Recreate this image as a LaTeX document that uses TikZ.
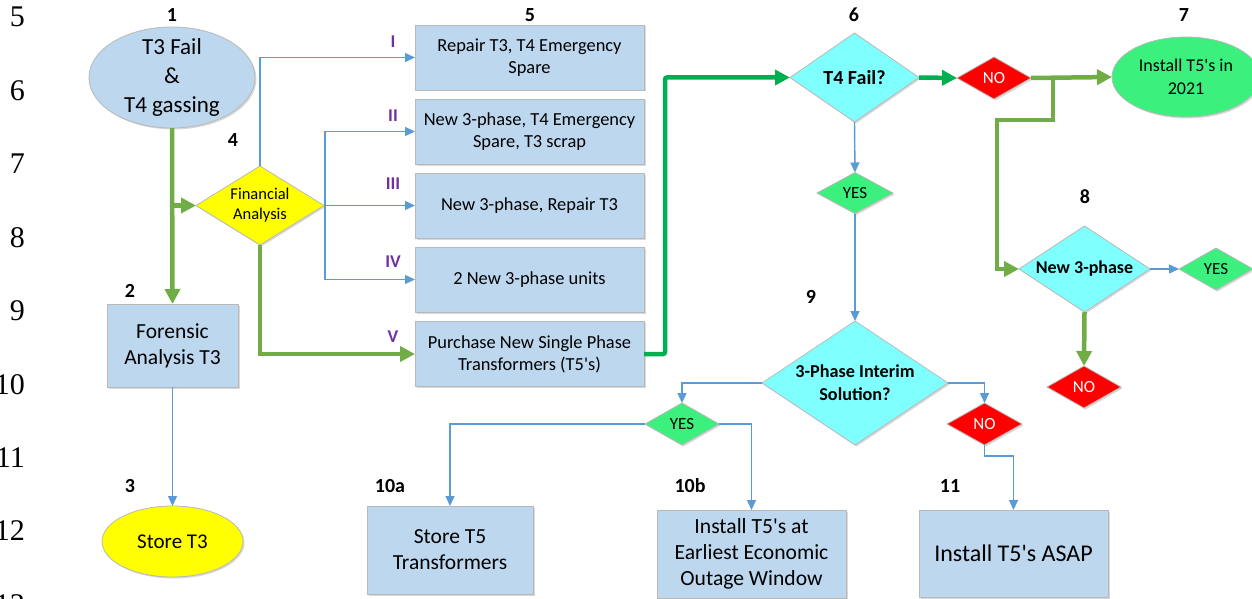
\documentclass[tikz,border=0pt]{standalone}
\usepackage{fontspec}
\setmainfont{Carlito}
\newfontfamily\numfont{Liberation Serif}
\usetikzlibrary{shapes.geometric,arrows.meta,shadows}
\definecolor{boxblue}{HTML}{BDD7EE}
\definecolor{edgegray}{HTML}{B8B8B8}
\definecolor{cyanfill}{HTML}{80FFFF}
\definecolor{yesgreen}{HTML}{3CF07E}
\definecolor{nored}{HTML}{FF0000}
\definecolor{yel}{HTML}{FFFF00}
\definecolor{lineblue}{HTML}{5B9BD5}
\definecolor{gone}{HTML}{70AD47}
\definecolor{gtwo}{HTML}{00B050}
\definecolor{romanpurple}{HTML}{7030A0}
\newcommand\fsz[2]{\fontsize{#1}{#2}\selectfont}
\begin{document}
\begin{tikzpicture}[x=1pt,y=-1pt,
  shp/.style={draw=edgegray, line width=0.8pt, inner sep=0pt, outer sep=0pt,
    drop shadow={shadow xshift=1.5pt, shadow yshift=-1.5pt, fill=black, opacity=0.15}},
  stepbox/.style={shp, rectangle, fill=boxblue, align=center},
  ell/.style={shp, ellipse},
  dia/.style={shp, diamond},
  bline/.style={draw=lineblue, line width=1.4pt, -{Triangle[length=10pt,width=9pt]}},
  gline/.style={draw=gone, line width=4.5pt, -{Triangle[length=15pt,width=15pt]}},
  gtline/.style={draw=gtwo, line width=4.5pt, -{Triangle[length=15pt,width=15pt]}},
  tag/.style={font=\fsz{20}{24}\bfseries, inner sep=0pt},
  roman/.style={font=\fsz{18}{22}\bfseries, text=romanpurple, inner sep=0pt},
  lnum/.style={font=\numfont\fsz{30}{30}, anchor=base east, inner sep=0pt},
  opt/.style={stepbox, minimum width=229, minimum height=65, font=\fsz{18.4}{22}}
]
\useasboundingbox (0,0) rectangle (1252,599);

% line numbers
\node[lnum] (l5) at (25,27) {5};
\node[lnum] (l6) at (25,100.4) {6};
\node[lnum] (l7) at (25,173.8) {7};
\node[lnum] (l8) at (25,247.2) {8};
\node[lnum] (l9) at (25,320.6) {9};
\node[lnum] (l10) at (25,394) {10};
\node[lnum] (l11) at (25,467.4) {11};
\node[lnum] (l12) at (25,540.8) {12};
\node[lnum] (l13) at (25,614.2) {13};

% left column
\node[ell, fill=boxblue, minimum width=166, minimum height=101,
  label={[font=\fsz{23}{29}, align=center]center:T3 Fail\\\&\\T4 gassing}] (n1) at (172,77.5) {};
\node[stepbox, minimum width=131, minimum height=83, font=\fsz{21.5}{26}] (n2) at (172.5,345.5) {Forensic\\Analysis T3};
\node[ell, fill=yel, minimum width=141, minimum height=71,
  label={[font=\fsz{21}{26}]center:Store T3}] (n3) at (172.5,541.5) {};
\node[dia, fill=yel, minimum width=128, minimum height=79,
  label={[font=\fsz{16.5}{20}, align=center]center:Financial\\Analysis}] (n4) at (260,205.5) {};

% option boxes
\node[opt] (b1) at (529.5,57.5) {Repair T3, T4 Emergency\\Spare};
\node[opt] (b2) at (529.5,131.5) {New 3-phase, T4 Emergency\\Spare, T3 scrap};
\node[opt] (b3) at (529.5,205.5) {New 3-phase, Repair T3};
\node[opt] (b4) at (529.5,279.5) {2 New 3-phase units};
\node[opt] (b5) at (529.5,354) {Purchase New Single Phase\\Transformers (T5\textquotesingle s)};

% decisions right
\node[dia, fill=cyanfill, minimum width=129, minimum height=89,
  label={[font=\fsz{20}{24}\bfseries]center:T4 Fail?}] (n6) at (854.5,77.5) {};
\node[dia, fill=nored, minimum width=74, minimum height=42,
  label={[font=\fsz{17}{20}, text=white]center:NO}] (no1) at (994,78) {};
\node[ell, fill=yesgreen, minimum width=148, minimum height=80,
  label={[font=\fsz{18}{23}, align=center]center:Install T5\textquotesingle s in\\2021}] (n7) at (1186,77) {};
\node[dia, fill=cyanfill, minimum width=131, minimum height=86,
  label={[font=\fsz{18}{22}\bfseries]center:New 3-phase}] (n8) at (1084.5,269) {};
\node[dia, fill=yesgreen, minimum width=74, minimum height=42,
  label={[font=\fsz{17}{20}]center:YES}] (yes2) at (1216,269) {};
\node[dia, fill=nored, minimum width=74, minimum height=42,
  label={[font=\fsz{17}{20}, text=white]center:NO}] (no2) at (1084,387) {};
\node[dia, fill=yesgreen, minimum width=76, minimum height=41,
  label={[font=\fsz{17}{20}]center:YES}] (yes1) at (855,193) {};
\node[dia, fill=cyanfill, minimum width=186, minimum height=124,
  label={[font=\fsz{18.2}{23}\bfseries, align=center]center:3-Phase Interim\\Solution?}] (n9) at (855,383) {};
\node[dia, fill=yesgreen, minimum width=74, minimum height=42,
  label={[font=\fsz{17}{20}]center:YES}] (yes3) at (682,424) {};
\node[dia, fill=nored, minimum width=75, minimum height=42,
  label={[font=\fsz{17}{20}, text=white]center:NO}] (no3) at (984.5,424) {};

% bottom boxes
\node[stepbox, minimum width=166, minimum height=88, font=\fsz{21.5}{26}] (b10a) at (450,550) {Store T5\\Transformers};
\node[stepbox, minimum width=189, minimum height=88, font=\fsz{21.6}{26}] (b10b) at (751.5,554) {Install T5\textquotesingle s at\\Earliest Economic\\Outage Window};
\node[stepbox, minimum width=189, minimum height=87, font=\fsz{24}{28}] (b11) at (1013.5,553.5) {Install T5\textquotesingle s ASAP};

% number tags
\node[tag] (t1) at (172,15) {1};
\node[tag] (t2) at (130,291) {2};
\node[tag] (t3) at (130,486) {3};
\node[tag] (t4) at (233,140) {4};
\node[tag] (t5) at (530,15) {5};
\node[tag] (t6) at (854,15) {6};
\node[tag] (t7) at (1184,15) {7};
\node[tag] (t8) at (1085,197) {8};
\node[tag] (t9) at (811,297) {9};
\node[tag] (t10a) at (390,486) {10a};
\node[tag] (t10b) at (690,486) {10b};
\node[tag] (t11) at (950,486) {11};

\node[roman] (r1) at (393,42) {I};
\node[roman] (r2) at (393,116) {II};
\node[roman] (r3) at (393,184) {III};
\node[roman] (r4) at (393,262) {IV};
\node[roman] (r5) at (393,337) {V};

% connectors
\draw[gline] (n1.south) -- (n2.north);
\coordinate (j1) at (n1.south |- n4.west);
\draw[gline] (j1) -- (n4.west);
\draw[bline] (n2.south) -- (n3.north);

\draw[bline] (n4.north) |- (b1.west);
\draw[bline] (n4.east) -- (b3.west);
\coordinate (j2) at (325,205.5);
\draw[bline] (j2) |- (b2.west);
\draw[bline] (j2) |- (b4.west);
\draw[gline] (n4.south) |- (b5.west);

\draw[gtline, rounded corners=2pt] (b5.east) -- ++(21,0) |- (n6.west);
\draw[gtline] (n6.east) -- (no1.west);
\draw[gline] (no1.east) -- (n7.west);
\coordinate (j4) at (1053,78);
\coordinate (j5) at (997,120);
\draw[gline] (j4) |- (j5) |- (n8.west);
\draw[bline] (n8.east) -- (yes2.west);
\draw[gline] (n8.south) -- (no2.north);

\draw[bline] (n6.south) -- (yes1.north);
\draw[bline] (yes1.south) -- (n9.north);
\draw[bline] (n9.west) -| (yes3.north);
\draw[bline] (yes3.west) -| (b10a.north);
\draw[bline] (yes3.east) -| (b10b.north);
\draw[bline] (n9.east) -| (no3.north);
\draw[bline] (no3.south) -- ++(0,11) -| (b11.north);
\end{tikzpicture}
\end{document}
